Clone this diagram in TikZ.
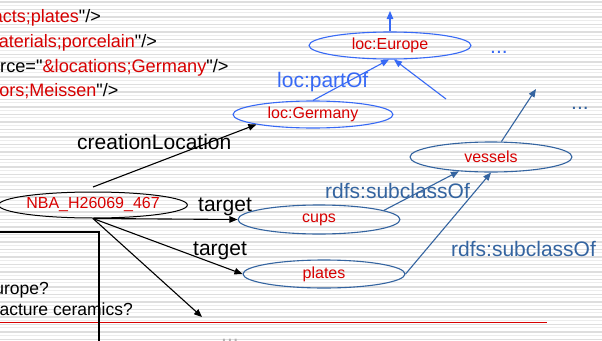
\documentclass[tikz,border=0pt]{standalone}
\usepackage{fontspec}
\setmainfont{Liberation Sans}[Ligatures=TeXOff]
\usetikzlibrary{shapes.geometric,arrows.meta}
\definecolor{txtred}{RGB}{215,0,0}
\definecolor{bblue}{RGB}{55,105,245}
\definecolor{sblue}{RGB}{52,100,160}
\definecolor{stripeA}{RGB}{222,222,222}
\definecolor{stripeB}{RGB}{236,236,236}
\definecolor{dotgray}{RGB}{175,175,175}
\begin{document}
\begin{tikzpicture}[x=1pt,y=-1pt,
  ell/.style={ellipse,draw,inner sep=0pt,line width=1.1pt,text=txtred,font=\fontsize{16}{19}\selectfont},
  blueell/.style={ell,draw=bblue},
  steelell/.style={ell,draw=sblue},
  blackell/.style={ell,draw=black,line width=1pt},
  arr/.style={-{Triangle[length=8pt,width=6.5pt]},line width=1.1pt},
  lbl/.style={font=\fontsize{21}{25}\selectfont,inner sep=0pt,anchor=base west},
  src/.style={font=\fontsize{18}{22}\selectfont,inner sep=0pt,anchor=base east},
  boxtxt/.style={font=\fontsize{17.5}{21}\selectfont,inner sep=0pt,anchor=base east},
]
\useasboundingbox (0,0) rectangle (602,340);
\clip (0,0) rectangle (602,340);
\fill[white] (0,0) rectangle (602,340);
% scan stripes
\foreach \y in {1,8.5,...,340} {
  \fill[stripeA] (0,\y) rectangle (602,\y+1.7);
  \fill[stripeB] (0,\y+3.7) rectangle (602,\y+4.7);
}

% source text (top left)
\node[src, anchor=base west, text=txtred] (src0) at (-1,-3) {ucts;cup};
\node[src] (src1) at (101,22.5) {\textcolor{txtred}{acts;plates}"/>};
\node[src] (src2) at (157,47.5) {\textcolor{txtred}{aterials;porcelain}"/>};
\node[src, anchor=base west, font=\fontsize{18.2}{22}\selectfont] (src3) at (0,72.5) {rce="\textcolor{txtred}{\&locations;Germany}"/>};
\node[src] (src4) at (118.5,96.5) {\textcolor{txtred}{ors;Meissen}"/>};

% question box text
\node[boxtxt] (q1) at (49,294) {urope?};
\node[boxtxt] (q2) at (133,315) {acture ceramics?};
\draw[txtred, line width=1pt] (0,322.3) -- (547,322.3);
\draw[line width=1.2pt] (-5,232) -- (99,232) -- (99,345);

% nodes
\node[blueell, minimum width=162pt, minimum height=27pt] (europe) at (390,45.5) {loc:Europe};
\node[blueell, minimum width=160pt, minimum height=27pt] (germany) at (313,114.5) {loc:Germany};
\node[steelell, minimum width=162pt, minimum height=30pt] (vessels) at (491,157) {vessels};
\node[steelell, minimum width=162pt, minimum height=29pt] (cups) at (319,219.5) {cups};
\node[steelell, minimum width=162pt, minimum height=28pt] (plates) at (324,274) {plates};
\node[blackell, minimum width=162pt, minimum height=26pt] (nba) at (93,205) {NBA\_H26069\_467};

\coordinate (euup) at (390,11);
\coordinate (farsrc) at (446,99);
\coordinate (vesup) at (536,89);
\coordinate (more) at (202,317);
\coordinate (nbatop) at (93,187);

% connectors
\draw[arr,bblue] (europe.north) -- (euup);
\draw[arr,bblue] (germany.north) -- ([xshift=-1pt]europe.south);
\draw[arr,bblue] (farsrc) -- ([xshift=4pt]europe.south);
\draw[arr,sblue] (vessels.56) -- (vesup);
\draw[arr,sblue] (cups.8) -- (vessels.204);
\draw[arr,sblue] (plates.east) -- (vessels.south);
\draw[arr] (nbatop) -- (germany.190);
\draw[arr] (nba.south) -- (cups.west);
\draw[arr] (nba.south) -- (plates.west);
\draw[arr] (nba.south) -- (more);

% labels
\node[lbl, text=bblue] (partof) at (277,87) {loc:partOf};
\node[lbl] (cl) at (77,149.5) {creationLocation};
\node[lbl] (t1) at (198,211.7) {target};
\node[lbl] (t2) at (193,255.5) {target};
\node[lbl, text=sblue] (sc1) at (325,198) {rdfs:subclassOf};
\node[lbl, text=sblue] (sc2) at (451,256) {rdfs:subclassOf};
\node[lbl, text=bblue] (dots1) at (490,53.5) {...};
\node[lbl, text=sblue] (dots2) at (571,109) {...};
\node[lbl, text=dotgray] (dots3) at (221,341) {...};
\end{tikzpicture}
\end{document}
